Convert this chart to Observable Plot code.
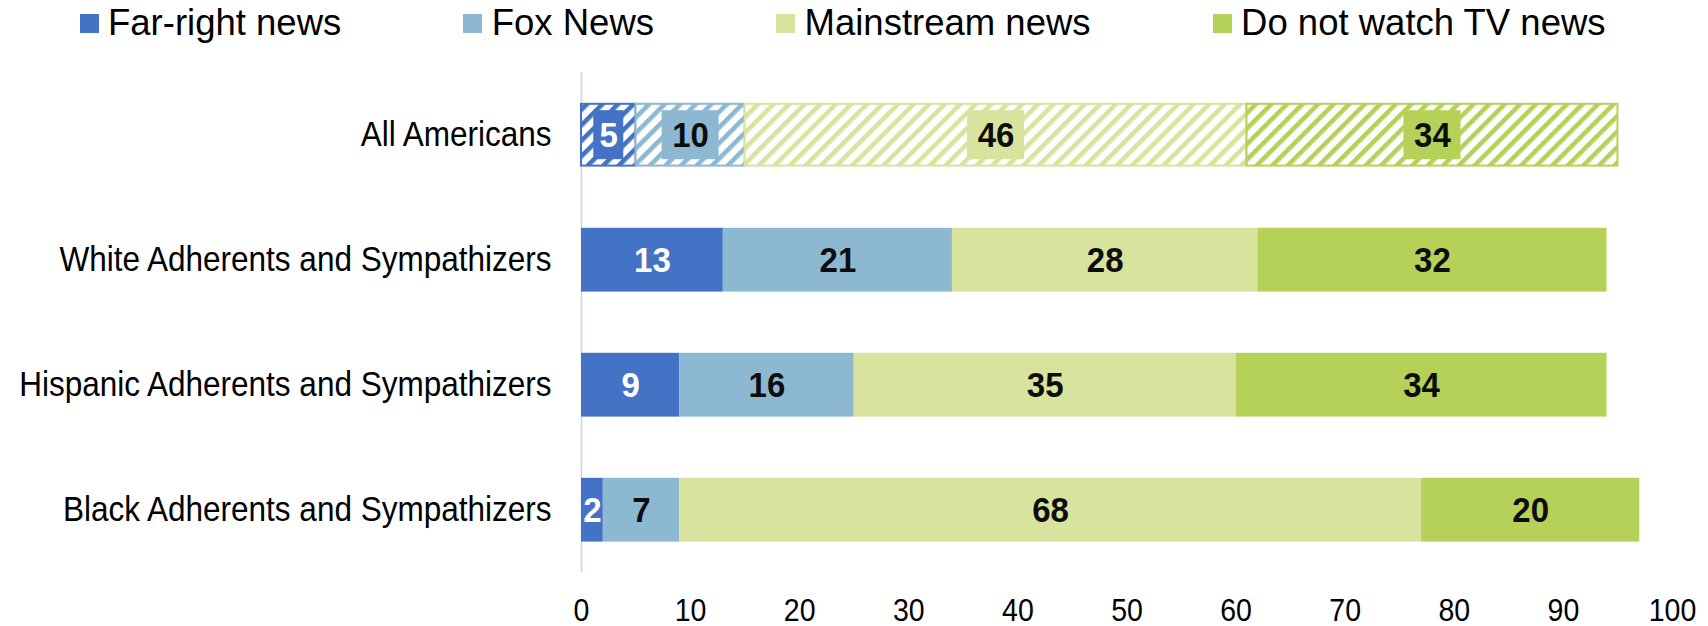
<!DOCTYPE html>
<html>
<head>
<meta charset="utf-8">
<script src="https://cdn.jsdelivr.net/npm/d3@7"></script>
<script src="https://cdn.jsdelivr.net/npm/@observablehq/plot@0.6"></script>
<style>
  html, body { margin: 0; padding: 0; background: #fff; }
  body { width: 1708px; height: 626px; overflow: hidden; font-family: "Liberation Sans", Arial, sans-serif; }
  #legend { display: flex; align-items: center; height: 46px; margin-bottom: 4px; padding-left: 79.5px; font-size: 36.5px; color: #000; white-space: nowrap; }
  #legend .item { display: flex; align-items: center; margin-right: 122px; }
  #legend .sw { width: 19px; height: 19px; margin-right: 9.5px; }
  #legend .lab { line-height: 1; }
  #chart { height: 576px; }
</style>
</head>
<body>
<div id="legend"></div>
<div id="chart"></div>
<script>
// ---- data ----
const groups = [
  "All Americans",
  "White Adherents and Sympathizers",
  "Hispanic Adherents and Sympathizers",
  "Black Adherents and Sympathizers"
];
const series = ["Far-right news", "Fox News", "Mainstream news", "Do not watch TV news"];
const farRight   = [5, 13, 9, 2];
const foxNews    = [10, 21, 16, 7];
const mainstream = [46, 28, 35, 68];
const noTV       = [34, 32, 34, 20];
const colors = ["#4472C4", "#8DB8D2", "#D8E39D", "#B5D158"];
const xTicks = [0, 10, 20, 30, 40, 50, 60, 70, 80, 90, 100];
const hatchedGroup = "All Americans";

// ---- legend ----
const legend = document.getElementById("legend");
series.forEach((s, i) => {
  const it = document.createElement("div");
  it.className = "item";
  it.innerHTML = `<span class="sw" style="background:${colors[i]}"></span><span class="lab">${s}</span>`;
  legend.appendChild(it);
});

// ---- rows ----
const values = [farRight, foxNews, mainstream, noTV];
const rows = groups.flatMap((g, gi) => {
  let acc = 0;
  return series.map((s, si) => {
    const v = values[si][gi];
    const r = {group: g, series: s, si, value: v, x1: acc, x2: acc + v, mid: acc + v / 2};
    acc += v;
    return r;
  });
});
const solidRows = rows.filter(d => d.group !== hatchedGroup);
const hatchRows = rows.filter(d => d.group === hatchedGroup);

const W = 1708, H = 576, ML = 581, MR = 36, MT = 22.2, MB = 53.8;
const pxPerUnit = (W - ML - MR) / 100;
const boxHalf = d => (String(d.value).length === 1 ? 15 : 28.5) / pxPerUnit;
const barInset = 30.6;

const svg = Plot.plot({
  width: W,
  height: H,
  marginLeft: ML,
  marginRight: MR,
  marginTop: MT,
  marginBottom: MB,
  style: {fontFamily: '"Liberation Sans", Arial, sans-serif', color: "#000", background: "#fff", overflow: "visible"},
  x: {domain: [0, 100]},
  y: {domain: groups, padding: 0, round: false},
  color: {type: "identity"},
  marks: [
    Plot.ruleX([0], {stroke: "#CCD6E6", strokeWidth: 1.6}),
    Plot.barX(solidRows, {x1: "x1", x2: "x2", y: "group", fill: d => colors[d.si], insetTop: barInset, insetBottom: barInset}),
    Plot.barX(hatchRows, {x1: "x1", x2: "x2", y: "group", fill: d => `url(#hatch${d.si})`, stroke: d => colors[d.si], strokeWidth: 2, insetTop: barInset + 1, insetBottom: barInset + 1}),
    Plot.barX(hatchRows, {x1: d => d.mid - boxHalf(d), x2: d => d.mid + boxHalf(d), y: "group", fill: d => colors[d.si], insetTop: 38, insetBottom: 38}),
    Plot.text(rows, {x: "mid", y: "group", text: d => String(d.value), fill: d => d.si === 0 ? "#ffffff" : "#0d0d0d", fontWeight: "bold", fontSize: 33}),
    Plot.axisY({tickSize: 0, tickPadding: 30, fontSize: 31.5, label: null}),
    Plot.axisX({ticks: xTicks, tickSize: 0, tickPadding: 27, fontSize: 28.5, label: null, tickFormat: d => String(d)})
  ]
});

// hatch patterns
const defs = d3.select(svg).insert("defs", ":first-child");
colors.forEach((c, i) => {
  const p = defs.append("pattern")
    .attr("id", `hatch${i}`)
    .attr("patternUnits", "userSpaceOnUse")
    .attr("width", 11).attr("height", 11)
    .attr("patternTransform", "rotate(45)");
  p.append("rect").attr("width", 11).attr("height", 11).attr("fill", "#fff");
  p.append("rect").attr("width", 4.6).attr("height", 11).attr("fill", c);
});

document.getElementById("chart").appendChild(svg);

// make glyphs a little taller while keeping their measured width (narrow, tall look of the original)
function stretch(selector, newSize) {
  svg.querySelectorAll(selector).forEach(t => {
    const L = t.getComputedTextLength();
    t.style.fontSize = newSize + "px";
    t.setAttribute("textLength", L);
    t.setAttribute("lengthAdjust", "spacingAndGlyphs");
  });
}
stretch('g[aria-label="y-axis tick label"] text', 35);
stretch('g[aria-label="x-axis tick label"] text', 30.5);
stretch('g[aria-label="text"] text', 35.5);
</script>
</body>
</html>
